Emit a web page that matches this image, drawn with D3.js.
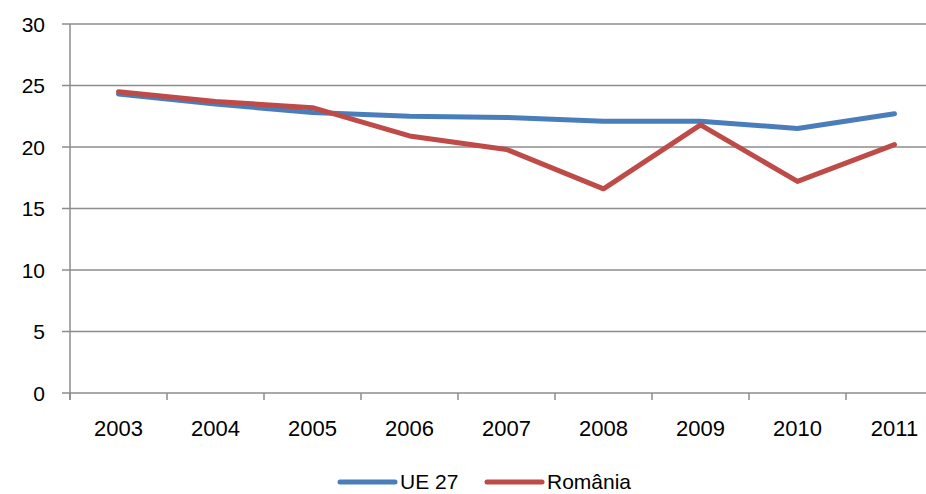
<!DOCTYPE html>
<html>
<head>
<meta charset="utf-8">
<script src="https://cdn.jsdelivr.net/npm/d3@7"></script>
<style>
  body { margin: 0; background: #fff; }
  svg { display: block; }
  text { font-family: "Liberation Sans", Arial, sans-serif; fill: #000; }
</style>
</head>
<body>
<script>
// data
const years = ["2003", "2004", "2005", "2006", "2007", "2008", "2009", "2010", "2011"];
const ue27 = [24.3, 23.5, 22.8, 22.5, 22.4, 22.1, 22.1, 21.5, 22.7];
const romania = [24.5, 23.7, 23.2, 20.9, 19.8, 16.6, 21.8, 17.2, 20.2];
const yTicks = [0, 5, 10, 15, 20, 25, 30];

const seriesNames = ["UE 27", "România"];
const seriesColors = ["#4a7ebb", "#be4b48"];

const width = 926, height = 494;
let margin = {top: 24, left: 70, bottom: 101};

let svg = d3.select("body").append("svg")
    .attr("width", width)
    .attr("height", height);

// band of 97px per year; the chart runs past the right edge like the original
let x = d3.scaleBand()
    .domain(years)
    .range([margin.left, margin.left + 97 * years.length]);

let y = d3.scaleLinear()
    .domain([0, 30])
    .range([height - margin.bottom, margin.top]);

// gridlines
svg.append("g")
    .selectAll("line")
    .data(yTicks)
    .enter()
    .append("line")
    .attr("x1", margin.left - 8)
    .attr("x2", width)
    .attr("y1", d => y(d))
    .attr("y2", d => y(d))
    .style("stroke", "#8c8c8c")
    .style("stroke-width", 1.5);

// y axis line
svg.append("line")
    .attr("x1", margin.left).attr("x2", margin.left)
    .attr("y1", y(30)).attr("y2", y(0) + 7)
    .style("stroke", "#8c8c8c")
    .style("stroke-width", 1.5);

// y labels
svg.append("g")
    .selectAll("text")
    .data(yTicks)
    .enter()
    .append("text")
    .attr("x", 45)
    .attr("y", d => y(d))
    .attr("dy", "0.36em")
    .attr("text-anchor", "end")
    .attr("font-size", "21px")
    .text(d => d);

// tick marks between the years
svg.append("g")
    .selectAll("line")
    .data(years)
    .enter()
    .append("line")
    .attr("x1", d => x(d))
    .attr("x2", d => x(d))
    .attr("y1", y(0))
    .attr("y2", y(0) + 7)
    .style("stroke", "#8c8c8c")
    .style("stroke-width", 1.5);

svg.append("g")
    .selectAll("text")
    .data(years)
    .enter()
    .append("text")
    .attr("x", d => x(d) + x.bandwidth() / 2)
    .attr("y", y(0) + 43)
    .attr("text-anchor", "middle")
    .attr("font-size", "22px")
    .text(d => d);

// lines
let line = d3.line()
    .x((d, i) => x(years[i]) + x.bandwidth() / 2)
    .y(d => y(d));

[ue27, romania].forEach(function (vals, i) {
    svg.append("path")
        .datum(vals)
        .attr("d", line)
        .style("fill", "none")
        .style("stroke", seriesColors[i])
        .style("stroke-width", 5)
        .style("stroke-linejoin", "round")
        .style("stroke-linecap", "round");
});

// legend
let legendX = [340, 487];
seriesNames.forEach(function (name, i) {
    let g = svg.append("g").attr("transform", "translate(" + legendX[i] + ",482)");
    g.append("line")
        .attr("x1", 0).attr("x2", 55)
        .style("stroke", seriesColors[i])
        .style("stroke-width", 5)
        .style("stroke-linecap", "round");
    g.append("text")
        .attr("x", 60)
        .attr("dy", "0.34em")
        .attr("font-size", "21px")
        .text(name);
});
</script>
</body>
</html>
